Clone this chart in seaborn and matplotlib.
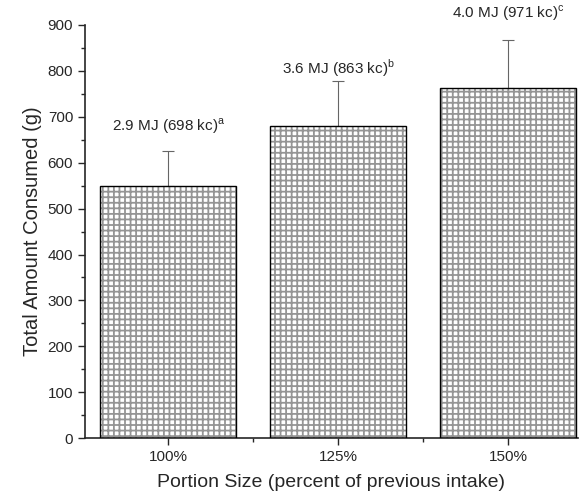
import pandas as pd
import matplotlib.pyplot as plt
import seaborn as sns
import numpy as np
from matplotlib.ticker import MultipleLocator

portion = ["100%", "125%", "150%"]
consumed = [549, 679, 763]
sd = [76, 99, 105]
labels = ["2.9 MJ (698 kc)$^{\\mathrm{a}}$",
          "3.6 MJ (863 kc)$^{\\mathrm{b}}$",
          "4.0 MJ (971 kc)$^{\\mathrm{c}}$"]
label_y = [680, 805, 925]

sns.set_style("ticks")
plt.rcParams["font.family"] = ["Liberation Sans", "DejaVu Sans"]
plt.rcParams["mathtext.fontset"] = "custom"
plt.rcParams["mathtext.rm"] = "Liberation Sans"
plt.rcParams["hatch.linewidth"] = 1.3

df = pd.DataFrame({"portion": portion, "consumed": consumed})

fig = plt.figure(figsize=(5.82, 4.98), dpi=100)
ax = fig.add_axes([0.146, 0.12, 0.847, 0.83])

ax.errorbar(np.arange(3), consumed, yerr=[np.zeros(3), sd], fmt="none",
            ecolor="#666666", elinewidth=0.8, capsize=4, capthick=0.8, zorder=0.5)

# texture layer (grey hatch), then black outline on top
sns.barplot(data=df, x="portion", y="consumed", color="white", width=0.8,
            edgecolor="#959595", linewidth=0, ax=ax, zorder=2)
for p in ax.patches:
    p.set_hatch("+++")
sns.barplot(data=df, x="portion", y="consumed", color="black", fill=False,
            width=0.8, linewidth=1.0, ax=ax, zorder=3)

for i, (t, yy) in enumerate(zip(labels, label_y)):
    ax.text(i, yy, t, ha="center", va="center", fontsize=11, clip_on=False)

ax.set_ylim(0, 900)
ax.set_xlim(-0.49, 2.41)
ax.yaxis.set_major_locator(MultipleLocator(100))
ax.yaxis.set_minor_locator(MultipleLocator(50))
ax.xaxis.set_minor_locator(MultipleLocator(0.5))
ax.tick_params(axis="both", which="major", length=5, width=1, labelsize=11, direction="out")
ax.tick_params(axis="both", which="minor", length=3, width=1, direction="out")
sns.despine(ax=ax)
for s in ["left", "bottom"]:
    ax.spines[s].set_linewidth(1.2)

ax.set_ylabel("Total Amount Consumed (g)", fontsize=14.5, labelpad=4)
ax.set_xlabel("Portion Size (percent of previous intake)", fontsize=14, labelpad=7)

plt.savefig("out.png", dpi=100)
